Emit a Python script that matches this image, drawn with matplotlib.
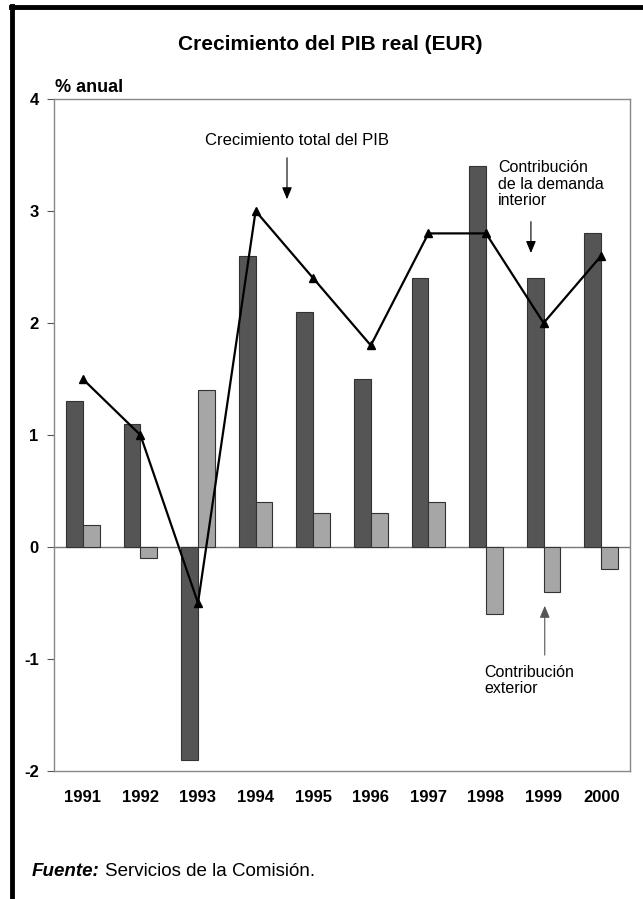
import matplotlib
matplotlib.use("Agg")
import matplotlib.pyplot as plt
import numpy as np
from matplotlib.lines import Line2D

years = ["1991", "1992", "1993", "1994", "1995", "1996", "1997", "1998", "1999", "2000"]
demanda_interior = [1.3, 1.1, -1.9, 2.6, 2.1, 1.5, 2.4, 3.4, 2.4, 2.8]
contribucion_exterior = [0.2, -0.1, 1.4, 0.4, 0.3, 0.3, 0.4, -0.6, -0.4, -0.2]
crecimiento_total = [1.5, 1.0, -0.5, 3.0, 2.4, 1.8, 2.8, 2.8, 2.0, 2.6]
yticks = [-2, -1, 0, 1, 2, 3, 4]

plt.rcParams['font.family'] = ['Liberation Sans', 'DejaVu Sans']

fig = plt.figure(figsize=(6.43, 8.99), dpi=100)
ax = fig.add_axes([54/643, 1-771/899, (630-54)/643, (771-99)/899])

x = np.arange(len(years))
w = 0.29
ax.bar(x - w/2, demanda_interior, width=w, color="#555555", edgecolor="#333333", linewidth=0.8, zorder=2)
ax.bar(x + w/2, contribucion_exterior, width=w, color="#a6a6a6", edgecolor="#333333", linewidth=0.8, zorder=2)
ax.plot(x, crecimiento_total, color="black", linewidth=1.6, marker="^", markersize=5.5, zorder=3)
ax.axhline(0, color="#777777", linewidth=1.0, zorder=1)

ax.set_xlim(-0.5, len(years) - 0.5)
ax.set_ylim(-2, 4)
ax.set_yticks(yticks)
ax.set_yticklabels([str(v) for v in yticks], fontweight="bold", fontsize=12)
ax.set_xticks(x)
ax.set_xticklabels(years, fontweight="bold", fontsize=12)
ax.tick_params(axis="x", length=0, pad=14)
ax.tick_params(axis="y", length=5, width=0.8, color="#555555", pad=6, direction="out")
for s in ax.spines.values():
    s.set_color("#888888")
    s.set_linewidth(1.0)

arrow_style = "-|>,head_width=0.25,head_length=0.6"
# annotations
ax.text(2.12, 3.63, "Crecimiento total del PIB", fontsize=12, ha="left", va="center")
ax.annotate("", xy=(3.545, 3.08), xytext=(3.545, 3.5),
            arrowprops=dict(arrowstyle=arrow_style, color="black", lw=0.8, mutation_scale=12))
ax.text(7.21, 3.24, "Contribución\nde la demanda\ninterior", fontsize=11.5, ha="left", va="center",
        linespacing=1.1)
ax.annotate("", xy=(7.78, 2.6), xytext=(7.78, 2.93),
            arrowprops=dict(arrowstyle=arrow_style, color="black", lw=0.8, mutation_scale=12))
ax.text(6.97, -1.19, "Contribución\nexterior", fontsize=11.5, ha="left", va="center",
        linespacing=1.1)
ax.annotate("", xy=(8.02, -0.5), xytext=(8.02, -0.99),
            arrowprops=dict(arrowstyle=arrow_style, color="#555555", lw=0.8, mutation_scale=12))

# title & labels
fig.text(330/643, 1-44/899, "Crecimiento del PIB real (EUR)", ha="center", va="center",
         fontsize=15, fontweight="bold")
fig.text(55/643, 1-88/899, "% anual", ha="left", va="center", fontsize=13, fontweight="bold")
t1 = fig.text(32/643, 1-872/899, "Fuente:", ha="left", va="center", fontsize=13.5,
              fontweight="bold", style="italic")
fig.canvas.draw()
bb = t1.get_window_extent()
fig.text((bb.x1 + 5)/fig.bbox.width, 1-872/899, "Servicios de la Comisión.", ha="left",
         va="center", fontsize=13.5)

# frame lines
fig.add_artist(Line2D([12/643, 12/643], [0, 1-6/899], transform=fig.transFigure,
                      color="black", linewidth=3.5))
fig.add_artist(Line2D([10.5/643, 1], [1-7/899, 1-7/899], transform=fig.transFigure,
                      color="black", linewidth=3.5))

fig.savefig("out.png", dpi=100)
